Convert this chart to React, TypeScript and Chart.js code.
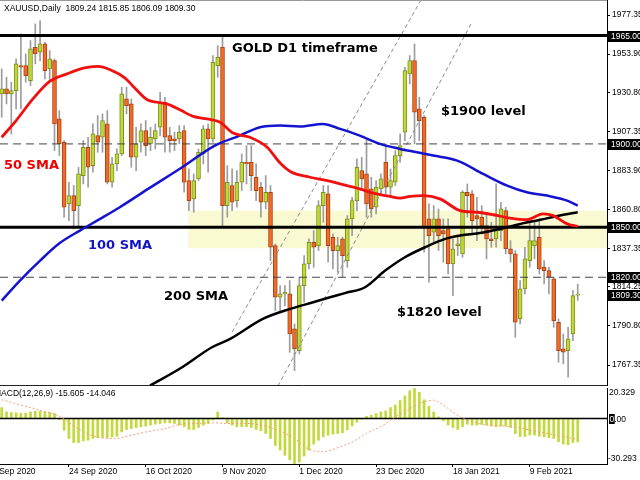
import { useEffect, useRef } from "react";
import { Chart, registerables } from "chart.js";

Chart.register(...registerables);

// ---------- DATA ----------
const DATES = [
  "4 Sep 2020","7 Sep 2020","8 Sep 2020","9 Sep 2020","10 Sep 2020","11 Sep 2020","14 Sep 2020","15 Sep 2020","16 Sep 2020","17 Sep 2020",
  "18 Sep 2020","21 Sep 2020","22 Sep 2020","23 Sep 2020","24 Sep 2020","25 Sep 2020","28 Sep 2020","29 Sep 2020","30 Sep 2020","1 Oct 2020",
  "2 Oct 2020","5 Oct 2020","6 Oct 2020","7 Oct 2020","8 Oct 2020","9 Oct 2020","12 Oct 2020","13 Oct 2020","14 Oct 2020","15 Oct 2020",
  "16 Oct 2020","19 Oct 2020","20 Oct 2020","21 Oct 2020","22 Oct 2020","23 Oct 2020","26 Oct 2020","27 Oct 2020","28 Oct 2020","29 Oct 2020",
  "30 Oct 2020","2 Nov 2020","3 Nov 2020","4 Nov 2020","5 Nov 2020","6 Nov 2020","9 Nov 2020","10 Nov 2020","11 Nov 2020","12 Nov 2020",
  "13 Nov 2020","16 Nov 2020","17 Nov 2020","18 Nov 2020","19 Nov 2020","20 Nov 2020","23 Nov 2020","24 Nov 2020","25 Nov 2020","26 Nov 2020",
  "27 Nov 2020","30 Nov 2020","1 Dec 2020","2 Dec 2020","3 Dec 2020","4 Dec 2020","7 Dec 2020","8 Dec 2020","9 Dec 2020","10 Dec 2020",
  "11 Dec 2020","14 Dec 2020","15 Dec 2020","16 Dec 2020","17 Dec 2020","18 Dec 2020","21 Dec 2020","22 Dec 2020","23 Dec 2020","24 Dec 2020",
  "28 Dec 2020","29 Dec 2020","30 Dec 2020","31 Dec 2020","4 Jan 2021","5 Jan 2021","6 Jan 2021","7 Jan 2021","8 Jan 2021","11 Jan 2021",
  "12 Jan 2021","13 Jan 2021","14 Jan 2021","15 Jan 2021","18 Jan 2021","19 Jan 2021","20 Jan 2021","21 Jan 2021","22 Jan 2021","25 Jan 2021",
  "26 Jan 2021","27 Jan 2021","28 Jan 2021","29 Jan 2021","1 Feb 2021","2 Feb 2021","3 Feb 2021","4 Feb 2021","5 Feb 2021","8 Feb 2021",
  "9 Feb 2021","10 Feb 2021","11 Feb 2021","12 Feb 2021","15 Feb 2021","16 Feb 2021","17 Feb 2021","18 Feb 2021","19 Feb 2021","22 Feb 2021",
  "23 Feb 2021"
];

const OPEN = [
  1930,1933,1930,1932,1947,1947,1938,1958,1955,1960,
  1945,1950,1915,1901,1864,1869,1863,1881,1898,1887,
  1905,1904,1912,1877,1888,1894,1927,1924,1892,1901,
  1908,1900,1903,1910,1925,1905,1903,1903,1908,1878,
  1867,1879,1894,1909,1903,1947,1958,1863,1875,1866,
  1877,1889,1889,1880,1874,1865,1871,1839,1808,1810,
  1810,1789,1776,1815,1828,1841,1839,1863,1870,1844,
  1836,1843,1830,1855,1866,1884,1882,1873,1862,1873,
  1889,1874,1877,1893,1907,1942,1950,1921,1916,1855,
  1847,1855,1848,1849,1828,1839,1834,1871,1870,1857,
  1856,1851,1843,1843,1848,1860,1837,1834,1795,1813,
  1830,1839,1844,1826,1824,1819,1793,1777,1776,1786,
  1809.24
];
const HIGH = [
  1945,1940,1937,1951,1966,1954,1962,1972,1974,1961,
  1956,1951,1920,1902,1877,1875,1886,1902,1904,1912,
  1917,1918,1920,1892,1897,1934,1934,1927,1910,1912,
  1914,1910,1912,1931,1928,1910,1907,1911,1911,1885,
  1882,1897,1911,1912,1953,1959,1965,1887,1885,1884,
  1894,1899,1899,1888,1877,1881,1875,1840,1815,1815,
  1818,1792,1820,1833,1843,1848,1866,1875,1875,1846,
  1844,1844,1857,1868,1891,1892,1903,1880,1878,1882,
  1900,1885,1896,1906,1946,1953,1960,1928,1917,1864,
  1863,1861,1855,1855,1843,1844,1872,1876,1872,1868,
  1863,1858,1853,1876,1865,1862,1842,1836,1818,1838,
  1854,1853,1855,1830,1826,1820,1795,1786,1790,1812,
  1815.85
];
const LOW = [
  1916,1924,1906,1921,1921,1937,1935,1948,1950,1939,
  1938,1896,1893,1856,1854,1849,1850,1876,1874,1883,
  1895,1895,1876,1874,1884,1893,1918,1886,1884,1895,
  1893,1896,1897,1905,1895,1895,1896,1900,1871,1860,
  1859,1878,1888,1883,1901,1940,1850,1856,1860,1862,
  1872,1876,1872,1866,1856,1861,1830,1800,1799,1803,
  1775,1764,1774,1805,1825,1826,1836,1853,1829,1825,
  1823,1820,1826,1845,1860,1872,1856,1856,1858,1869,
  1870,1868,1875,1889,1902,1936,1900,1902,1835,1817,
  1840,1836,1829,1822,1809,1833,1832,1856,1846,1842,
  1846,1831,1838,1838,1842,1834,1829,1784,1792,1810,
  1826,1831,1822,1816,1810,1790,1769,1768,1760,1782,
  1806.09
];
const CLOSE = [
  1933,1930,1932,1948,1946,1941,1957,1954,1960,1944,
  1951,1912,1900,1862,1869,1860,1882,1898,1886,1906,
  1901,1914,1877,1888,1894,1930,1923,1892,1900,1908,
  1899,1904,1908,1925,1904,1902,1902,1907,1877,1866,
  1878,1895,1909,1903,1949,1952,1863,1877,1865,1877,
  1889,1888,1881,1872,1865,1871,1838,1808,1810,1811,
  1786,1777,1815,1828,1841,1838,1863,1871,1839,1836,
  1839,1833,1855,1866,1886,1879,1864,1861,1874,1879,
  1874,1878,1893,1899,1944,1950,1919,1914,1850,1845,
  1855,1845,1846,1828,1837,1840,1871,1869,1854,1855,
  1851,1843,1842,1848,1861,1837,1834,1793,1813,1831,
  1842,1842,1825,1824,1820,1794,1776,1775,1783,1809,
  1809.30
];

// MACD(12,26,9) main values (histogram) per bar
const MACD_MAIN = [
  7.3,4.4,4.0,3.8,3.5,3.5,4.4,4.9,4.9,4.4,
  4.0,3.3,-0.7,-7.8,-13.3,-16.0,-16.0,-14.9,-14.4,-13.3,
  -12.7,-12.7,-12.7,-12.2,-11.8,-8.9,-7.3,-6.7,-6.0,-5.5,
  -5.1,-4.4,-3.8,-3.3,-2.9,-2.9,-3.3,-4.4,-5.5,-7.3,
  -7.3,-6.0,-4.4,-3.3,-1.0,4.4,0.5,-2.9,-4.4,-5.5,
  -5.5,-5.5,-6.0,-7.3,-8.2,-10.0,-13.3,-18.0,-21.0,-24.5,
  -27.5,-30.29,-29.0,-25.0,-21.0,-17.0,-14.5,-12.2,-11.1,-10.4,
  -10.0,-9.5,-7.5,-5.0,-2.5,-0.5,1.5,2.2,3.3,4.4,
  5.0,7.3,8.9,12.0,15.0,18.5,20.33,17.5,12.5,8.2,
  4.4,1.1,-1.6,-4.4,-6.0,-7.3,-5.5,-3.8,-4.4,-4.4,
  -3.8,-4.4,-5.0,-5.5,-5.0,-5.0,-6.0,-10.0,-12.0,-12.0,
  -11.0,-11.0,-11.8,-12.2,-12.7,-13.3,-15.5,-17.0,-17.5,-16.0,
  -15.605
];
// signal line, read at sample bars
const SIGNAL_X = [0,4,8,12,16,20,23.5,27,30,34,37,40.5,44,47,51,54,57.5,61,64,67,69.5,73,76,79.5,81.5,84.5,88,90,91.5,93,95.5,98,101.5,105,108.5,112,115.5,118.5,120];
const SIGNAL_Y = [12.5,9,5.5,1.5,-7,-12.5,-13.3,-11.1,-9,-6.7,-4,-3.3,-2.9,-3.3,-3.3,-4.4,-7.8,-13.3,-20.5,-22.2,-20,-15.6,-10,-4.4,0,5.5,11,12.2,10,6.7,1.1,-2.2,-4.4,-5.1,-6.7,-8.9,-11.1,-12.9,-14.046];

// moving averages read at sample bars
const SMA50_X = [0,3,6.5,10,13.6,17,20,22.6,25.7,27.4,30.3,32.4,34.4,37.1,39.9,42.8,45.5,48.2,51.7,55.3,58,60.1,64.2,67.8,70.5,74.6,77.4,80.9,83,85.1,87.8,91.3,95.5,99,102.4,105.9,109.4,112.8,114.9,117.8,120];
const SMA50_Y = [1904,1914,1927,1937.5,1942,1945.5,1946.5,1944.5,1939.5,1934.5,1926.5,1925,1924,1920.5,1916.5,1915,1913,1906.5,1904,1898,1888.5,1883.5,1880,1878,1876,1873,1870.5,1868.5,1867.5,1868.5,1869,1867,1860,1859,1857.5,1855.5,1854.5,1858,1857,1852,1850.5];
const SMA100_X = [0,3.8,8,12.1,16.3,20.5,24.6,30.5,37.6,44.4,49.6,53.8,58,62.1,66.9,70.5,74.6,78.8,83,86.5,89.9,94.9,100.3,105.3,109.4,113.6,117.8,120];
const SMA100_Y = [1806,1818,1830,1840.5,1848,1855,1862,1873,1886,1899,1905,1910,1911,1910.5,1912,1909,1905,1900,1897,1895,1893,1890,1882,1875,1871,1869,1866,1863];
const SMA200_X = [30.9,37.6,43.8,47.6,54.4,60.1,64.9,68.4,71.5,75.7,79.9,84,88.2,92.4,96.5,99.6,103.8,108,112.2,116.3,120];
const SMA200_Y = [1755,1766,1778,1783,1795,1801,1805,1808,1810.5,1814,1824,1832,1838,1843,1845.5,1846.5,1849,1852,1854.5,1857,1859];

// levels and drawn objects
const KEY_LEVELS = [1965, 1850];
const DASH_LEVELS = [1900, 1820];
const ZONE_LOW = 1837.4;
const ZONE_HIGH = 1860.0;
const ZONE_START_BAR = 38.9;
const CHANNEL_A_X = [48.0, 87.35];
const CHANNEL_A_Y = [1787.15, 1986.35];
const CHANNEL_B_X = [57.56, 97.98];
const CHANNEL_B_Y = [1754.75, 1973.15];

const PRICE_TICKS = [1977.35, 1953.9, 1930.8, 1907.35, 1883.9, 1860.8, 1837.35, 1814.25, 1790.8, 1767.35];
const PRICE_BOXES = [1965, 1900, 1850, 1820, 1809.3];
const X_TICK_BARS = [-2, 14, 30, 46, 62, 78, 94, 110];
const X_TICK_LABELS = ["2 Sep 2020", "24 Sep 2020", "16 Oct 2020", "9 Nov 2020", "1 Dec 2020", "23 Dec 2020", "18 Jan 2021", "9 Feb 2021"];
const MACD_TOP = 20.329;
const MACD_BOTTOM = -30.293;

const HEADER = "XAUUSD,Daily  1809.24 1815.85 1806.09 1809.30";
const MACD_HEADER = "MACD(12,26,9) -15.605 -14.046";

// ---------- VIEW ----------
const X_MIN = -0.354;
const X_MAX = 126.1;
const Y_MIN = 1754.75;
const Y_MAX = 1986.35;
const FONT = "'Liberation Sans', Arial, sans-serif";
const BOLD = "'DejaVu Sans', sans-serif";

const ANNOTATIONS = [
  { text: "GOLD D1 timeframe", color: "#000000", x: 232, y: 49 },
  { text: "$1900 level", color: "#000000", x: 441, y: 112 },
  { text: "50 SMA", color: "#ee0000", x: 4, y: 166 },
  { text: "100 SMA", color: "#1414c8", x: 88, y: 246 },
  { text: "200 SMA", color: "#000000", x: 164, y: 297 },
  { text: "$1820 level", color: "#000000", x: 397, y: 313 },
];

const pts = (xs: number[], ys: number[]) => xs.map((x, i) => ({ x, y: ys[i] }));

function hLine(y: number, color: string, width: number, dash: number[] = []) {
  return {
    type: "line",
    data: [{ x: X_MIN, y }, { x: X_MAX, y }],
    borderColor: color,
    borderWidth: width,
    borderDash: dash,
    pointRadius: 0,
    order: 5,
  };
}

function mainConfig(): any {
  const bull = OPEN.map((o, i) => CLOSE[i] >= o);
  const decor = {
    id: "mainDecor",
    beforeDatasetsDraw(chart: any) {
      const { ctx, chartArea: ca, scales } = chart;
      const x0 = scales.x.getPixelForValue(ZONE_START_BAR);
      const yt = scales.y.getPixelForValue(ZONE_HIGH);
      const yb = scales.y.getPixelForValue(ZONE_LOW);
      ctx.save();
      ctx.fillStyle = "#fafad2";
      ctx.fillRect(x0, yt, ca.right - x0, yb - yt);
      ctx.restore();
    },
    afterDraw(chart: any) {
      const { ctx, chartArea: ca, scales } = chart;
      ctx.save();
      ctx.strokeStyle = "#222";
      ctx.lineWidth = 1;
      ctx.beginPath();
      ctx.moveTo(0, ca.bottom - 0.5);
      ctx.lineTo(ca.right, ca.bottom - 0.5);
      ctx.stroke();
      ctx.strokeStyle = "#9a9a9a";
      ctx.beginPath();
      ctx.moveTo(0, 0.5);
      ctx.lineTo(ca.right, 0.5);
      ctx.stroke();
      ctx.textAlign = "left";
      ctx.textBaseline = "middle";
      ctx.fillStyle = "#000";
      ctx.font = `8.5px ${FONT}`;
      ctx.fillText(HEADER, 4, 9);
      ctx.font = `bold 13px ${BOLD}`;
      for (const a of ANNOTATIONS) {
        ctx.fillStyle = a.color;
        ctx.fillText(a.text, a.x, a.y);
      }
      ctx.font = `8.5px ${FONT}`;
      for (const v of PRICE_BOXES) {
        const y = scales.y.getPixelForValue(v);
        ctx.fillStyle = "#000";
        ctx.fillRect(ca.right + 1, Math.round(y) - 5, 33, 11);
        ctx.fillStyle = "#fff";
        ctx.fillText(v.toFixed(2), ca.right + 4, Math.round(y) + 0.5);
      }
      ctx.restore();
    },
  };
  return {
    type: "bar",
    data: {
      datasets: [
        {
          type: "bar",
          data: DATES.map((_, i) => ({ x: i, y: [LOW[i], HIGH[i]] })),
          backgroundColor: "#9c9c9c",
          barThickness: 1,
          grouped: false,
          order: 20,
        },
        {
          type: "bar",
          data: DATES.map((_, i) => ({ x: i, y: [OPEN[i], CLOSE[i]] })),
          backgroundColor: bull.map((b) => (b ? "#c0d73a" : "#f26a28")),
          borderColor: bull.map((b) => (b ? "#7e9020" : "#a84416")),
          borderWidth: 1,
          borderSkipped: false,
          barThickness: 4,
          minBarLength: 1,
          grouped: false,
          order: 19,
        },
        hLine(KEY_LEVELS[0], "#000", 3),
        hLine(KEY_LEVELS[1], "#000", 3),
        hLine(DASH_LEVELS[0], "#444", 1, [8, 5]),
        hLine(DASH_LEVELS[1], "#444", 1, [8, 5]),
        {
          type: "line",
          data: pts(CHANNEL_A_X, CHANNEL_A_Y),
          borderColor: "#8a8a8a",
          borderWidth: 1,
          borderDash: [4, 3],
          pointRadius: 0,
          order: 6,
        },
        {
          type: "line",
          data: pts(CHANNEL_B_X, CHANNEL_B_Y),
          borderColor: "#8a8a8a",
          borderWidth: 1,
          borderDash: [4, 3],
          pointRadius: 0,
          order: 6,
        },
        {
          type: "line",
          data: pts(SMA200_X, SMA200_Y),
          borderColor: "#000000",
          borderWidth: 2.5,
          pointRadius: 0,
          cubicInterpolationMode: "monotone",
          order: 3,
        },
        {
          type: "line",
          data: pts(SMA100_X, SMA100_Y),
          borderColor: "#1414d0",
          borderWidth: 2.5,
          pointRadius: 0,
          cubicInterpolationMode: "monotone",
          order: 2,
        },
        {
          type: "line",
          data: pts(SMA50_X, SMA50_Y),
          borderColor: "#f01010",
          borderWidth: 2.8,
          pointRadius: 0,
          cubicInterpolationMode: "monotone",
          order: 1,
        },
      ],
    },
    options: {
      responsive: false,
      animation: false,
      events: [],
      layout: { padding: 0 },
      plugins: { legend: { display: false }, tooltip: { enabled: false } },
      scales: {
        x: { type: "linear", min: X_MIN, max: X_MAX, offset: false, display: false, grid: { offset: false } },
        y: {
          type: "linear",
          position: "right",
          min: Y_MIN,
          max: Y_MAX,
          afterBuildTicks: (s: any) => {
            s.ticks = PRICE_TICKS.map((v) => ({ value: v }));
          },
          afterFit: (s: any) => {
            s.width = 33;
            s.paddingTop = 0;
            s.paddingBottom = 0;
          },
          ticks: {
            callback: (v: any) => Number(v).toFixed(2),
            font: { size: 8.5, family: FONT },
            color: "#000",
            padding: 2,
            autoSkip: false,
          },
          grid: { drawOnChartArea: false, tickLength: 3, color: "#000" },
          border: { color: "#000", width: 1 },
        },
      },
    },
    plugins: [decor],
  };
}

function macdConfig(): any {
  const decor = {
    id: "macdDecor",
    afterDraw(chart: any) {
      const { ctx, chartArea: ca, scales } = chart;
      ctx.save();
      ctx.textAlign = "left";
      ctx.textBaseline = "middle";
      ctx.font = `8.5px ${FONT}`;
      ctx.fillStyle = "#000";
      ctx.fillText(MACD_HEADER, -6, ca.top + 6);
      ctx.fillText(MACD_TOP.toFixed(3), ca.right + 2, ca.top + 5);
      ctx.fillText(MACD_BOTTOM.toFixed(3), ca.right + 1, ca.bottom - 5);
      const y0 = Math.round(scales.y.getPixelForValue(0));
      const w0 = ctx.measureText("0").width;
      ctx.fillRect(ca.right + 2, y0 - 5, w0 + 1, 10);
      ctx.fillStyle = "#fff";
      ctx.fillText("0", ca.right + 2.5, y0 + 0.5);
      ctx.fillStyle = "#000";
      ctx.fillText(".00", ca.right + 2.5 + w0, y0 + 0.5);
      ctx.restore();
    },
  };
  return {
    type: "bar",
    data: {
      datasets: [
        {
          type: "bar",
          data: DATES.map((_, i) => ({ x: i, y: MACD_MAIN[i] })),
          backgroundColor: "#c3d93a",
          barThickness: 2,
          grouped: false,
          order: 3,
        },
        {
          type: "line",
          data: [{ x: X_MIN, y: 0 }, { x: X_MAX, y: 0 }],
          borderColor: "#000",
          borderWidth: 1.5,
          pointRadius: 0,
          order: 2,
        },
        {
          type: "line",
          data: pts(SIGNAL_X, SIGNAL_Y),
          borderColor: "#f4a07c",
          borderWidth: 1,
          borderDash: [2, 2],
          pointRadius: 0,
          cubicInterpolationMode: "monotone",
          order: 1,
        },
      ],
    },
    options: {
      responsive: false,
      animation: false,
      events: [],
      layout: { padding: { top: 2 } },
      plugins: { legend: { display: false }, tooltip: { enabled: false } },
      scales: {
        x: {
          type: "linear",
          min: X_MIN,
          max: X_MAX,
          offset: false,
          afterBuildTicks: (s: any) => {
            s.ticks = X_TICK_BARS.map((v) => ({ value: v }));
          },
          afterFit: (s: any) => {
            s.height = 16;
            s.paddingLeft = 0;
            s.paddingRight = 0;
          },
          ticks: {
            callback: (v: any) => X_TICK_LABELS[X_TICK_BARS.indexOf(Number(v))] ?? "",
            autoSkip: false,
            maxRotation: 0,
            align: "start",
            font: { size: 8.5, family: FONT },
            color: "#000",
            padding: 0,
          },
          grid: { drawOnChartArea: false, tickLength: 3, color: "#000", offset: false },
          border: { color: "#000", width: 1 },
        },
        y: {
          type: "linear",
          position: "right",
          min: MACD_BOTTOM,
          max: MACD_TOP,
          ticks: { display: false },
          grid: { display: false },
          border: { color: "#000", width: 1 },
          afterFit: (s: any) => {
            s.width = 33;
            s.paddingTop = 0;
            s.paddingBottom = 0;
          },
        },
      },
    },
    plugins: [decor],
  };
}

export default function App() {
  const mainRef = useRef<HTMLCanvasElement>(null);
  const macdRef = useRef<HTMLCanvasElement>(null);
  useEffect(() => {
    const main = new Chart(mainRef.current as HTMLCanvasElement, mainConfig());
    const macd = new Chart(macdRef.current as HTMLCanvasElement, macdConfig());
    return () => {
      main.destroy();
      macd.destroy();
    };
  }, []);
  return (
    <div style={{ position: "absolute", left: 0, top: 0, width: 640, height: 480, background: "#fff", overflow: "hidden" }}>
      <canvas ref={mainRef} width={640} height={386} style={{ position: "absolute", left: 0, top: 0 }} />
      <canvas ref={macdRef} width={640} height={94} style={{ position: "absolute", left: 0, top: 386 }} />
    </div>
  );
}
